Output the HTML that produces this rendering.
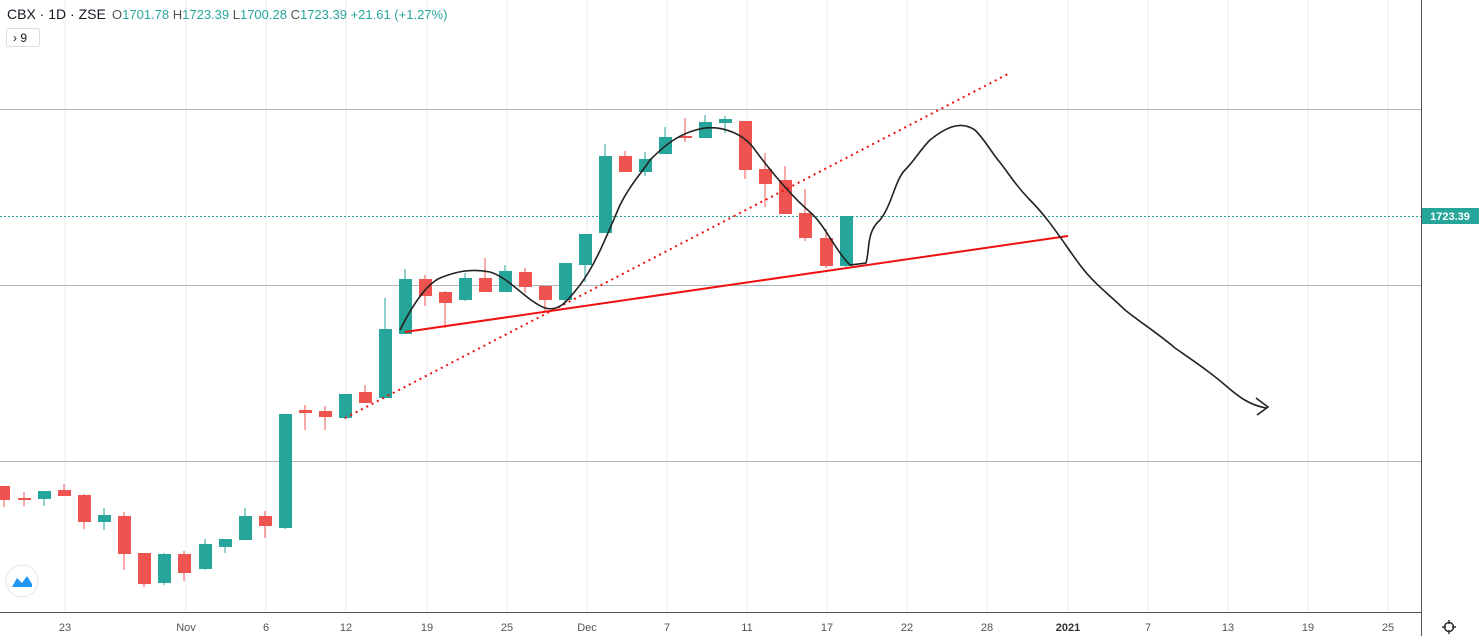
<!DOCTYPE html>
<html><head><style>
body{margin:0;background:#fff;}
svg{display:block;font-family:"Liberation Sans",sans-serif;}
</style></head><body>
<svg width="1479" height="636" viewBox="0 0 1479 636">
<rect width="1479" height="636" fill="#fff"/>
<g stroke="#e8ebef" stroke-width="1">
<line x1="65" y1="0" x2="65" y2="612"/><line x1="186" y1="0" x2="186" y2="612"/><line x1="266" y1="0" x2="266" y2="612"/><line x1="346" y1="0" x2="346" y2="612"/><line x1="427" y1="0" x2="427" y2="612"/><line x1="507" y1="0" x2="507" y2="612"/><line x1="587" y1="0" x2="587" y2="612"/><line x1="667" y1="0" x2="667" y2="612"/><line x1="747" y1="0" x2="747" y2="612"/><line x1="827" y1="0" x2="827" y2="612"/><line x1="907" y1="0" x2="907" y2="612"/><line x1="987" y1="0" x2="987" y2="612"/><line x1="1068" y1="0" x2="1068" y2="612"/><line x1="1148" y1="0" x2="1148" y2="612"/><line x1="1228" y1="0" x2="1228" y2="612"/><line x1="1308" y1="0" x2="1308" y2="612"/><line x1="1388" y1="0" x2="1388" y2="612"/>
</g>
<g stroke="#b2b5be" stroke-width="1">
<line x1="0" y1="109.5" x2="1421" y2="109.5"/><line x1="0" y1="285.5" x2="1421" y2="285.5"/><line x1="0" y1="461.5" x2="1421" y2="461.5"/>
</g>
<line x1="0" y1="216.5" x2="1421" y2="216.5" stroke="#26a69a" stroke-dasharray="2,2"/>
<line x1="0" y1="612.5" x2="1421" y2="612.5" stroke="#555"/>
<line x1="1421.5" y1="0" x2="1421.5" y2="636" stroke="#555"/>
<g stroke-width="1">
<line x1="4" y1="486" x2="4" y2="507" stroke="#ef5350"/><rect x="-3" y="486" width="13" height="14" fill="#ef5350"/>
<line x1="24" y1="492" x2="24" y2="506" stroke="#ef5350"/><rect x="18" y="498" width="13" height="2" fill="#ef5350"/>
<line x1="44" y1="491" x2="44" y2="506" stroke="#26a69a"/><rect x="38" y="491" width="13" height="8" fill="#26a69a"/>
<line x1="64" y1="484" x2="64" y2="496" stroke="#ef5350"/><rect x="58" y="490" width="13" height="6" fill="#ef5350"/>
<line x1="84" y1="494" x2="84" y2="529" stroke="#ef5350"/><rect x="78" y="495" width="13" height="27" fill="#ef5350"/>
<line x1="104" y1="508" x2="104" y2="530" stroke="#26a69a"/><rect x="98" y="515" width="13" height="7" fill="#26a69a"/>
<line x1="124" y1="512" x2="124" y2="570" stroke="#ef5350"/><rect x="118" y="516" width="13" height="38" fill="#ef5350"/>
<line x1="144" y1="553" x2="144" y2="587" stroke="#ef5350"/><rect x="138" y="553" width="13" height="31" fill="#ef5350"/>
<line x1="164" y1="553" x2="164" y2="585" stroke="#26a69a"/><rect x="158" y="554" width="13" height="29" fill="#26a69a"/>
<line x1="184" y1="551" x2="184" y2="581" stroke="#ef5350"/><rect x="178" y="554" width="13" height="19" fill="#ef5350"/>
<line x1="205" y1="539" x2="205" y2="570" stroke="#26a69a"/><rect x="199" y="544" width="13" height="25" fill="#26a69a"/>
<line x1="225" y1="539" x2="225" y2="553" stroke="#26a69a"/><rect x="219" y="539" width="13" height="8" fill="#26a69a"/>
<line x1="245" y1="508" x2="245" y2="540" stroke="#26a69a"/><rect x="239" y="516" width="13" height="24" fill="#26a69a"/>
<line x1="265" y1="511" x2="265" y2="538" stroke="#ef5350"/><rect x="259" y="516" width="13" height="10" fill="#ef5350"/>
<line x1="285" y1="414" x2="285" y2="529" stroke="#26a69a"/><rect x="279" y="414" width="13" height="114" fill="#26a69a"/>
<line x1="305" y1="405" x2="305" y2="430" stroke="#ef5350"/><rect x="299" y="410" width="13" height="3" fill="#ef5350"/>
<line x1="325" y1="406" x2="325" y2="430" stroke="#ef5350"/><rect x="319" y="411" width="13" height="6" fill="#ef5350"/>
<line x1="345" y1="394" x2="345" y2="419" stroke="#26a69a"/><rect x="339" y="394" width="13" height="24" fill="#26a69a"/>
<line x1="365" y1="385" x2="365" y2="403" stroke="#ef5350"/><rect x="359" y="392" width="13" height="11" fill="#ef5350"/>
<line x1="385" y1="298" x2="385" y2="398" stroke="#26a69a"/><rect x="379" y="329" width="13" height="69" fill="#26a69a"/>
<line x1="405" y1="269" x2="405" y2="334" stroke="#26a69a"/><rect x="399" y="279" width="13" height="55" fill="#26a69a"/>
<line x1="425" y1="275" x2="425" y2="306" stroke="#ef5350"/><rect x="419" y="279" width="13" height="17" fill="#ef5350"/>
<line x1="445" y1="291" x2="445" y2="328" stroke="#ef5350"/><rect x="439" y="292" width="13" height="11" fill="#ef5350"/>
<line x1="465" y1="273" x2="465" y2="301" stroke="#26a69a"/><rect x="459" y="278" width="13" height="22" fill="#26a69a"/>
<line x1="485" y1="258" x2="485" y2="292" stroke="#ef5350"/><rect x="479" y="278" width="13" height="14" fill="#ef5350"/>
<line x1="505" y1="265" x2="505" y2="292" stroke="#26a69a"/><rect x="499" y="271" width="13" height="21" fill="#26a69a"/>
<line x1="525" y1="268" x2="525" y2="293" stroke="#ef5350"/><rect x="519" y="272" width="13" height="15" fill="#ef5350"/>
<line x1="545" y1="286" x2="545" y2="312" stroke="#ef5350"/><rect x="539" y="286" width="13" height="14" fill="#ef5350"/>
<line x1="565" y1="263" x2="565" y2="305" stroke="#26a69a"/><rect x="559" y="263" width="13" height="37" fill="#26a69a"/>
<line x1="585" y1="234" x2="585" y2="282" stroke="#26a69a"/><rect x="579" y="234" width="13" height="31" fill="#26a69a"/>
<line x1="605" y1="144" x2="605" y2="233" stroke="#26a69a"/><rect x="599" y="156" width="13" height="77" fill="#26a69a"/>
<line x1="625" y1="151" x2="625" y2="172" stroke="#ef5350"/><rect x="619" y="156" width="13" height="16" fill="#ef5350"/>
<line x1="645" y1="152" x2="645" y2="176" stroke="#26a69a"/><rect x="639" y="159" width="13" height="13" fill="#26a69a"/>
<line x1="665" y1="127" x2="665" y2="154" stroke="#26a69a"/><rect x="659" y="137" width="13" height="17" fill="#26a69a"/>
<line x1="685" y1="118" x2="685" y2="142" stroke="#ef5350"/><rect x="679" y="136" width="13" height="2" fill="#ef5350"/>
<line x1="705" y1="115" x2="705" y2="138" stroke="#26a69a"/><rect x="699" y="122" width="13" height="16" fill="#26a69a"/>
<line x1="725" y1="116" x2="725" y2="133" stroke="#26a69a"/><rect x="719" y="119" width="13" height="4" fill="#26a69a"/>
<line x1="745" y1="121" x2="745" y2="179" stroke="#ef5350"/><rect x="739" y="121" width="13" height="49" fill="#ef5350"/>
<line x1="765" y1="153" x2="765" y2="207" stroke="#ef5350"/><rect x="759" y="169" width="13" height="15" fill="#ef5350"/>
<line x1="785" y1="166" x2="785" y2="214" stroke="#ef5350"/><rect x="779" y="180" width="13" height="34" fill="#ef5350"/>
<line x1="805" y1="189" x2="805" y2="241" stroke="#ef5350"/><rect x="799" y="213" width="13" height="25" fill="#ef5350"/>
<line x1="826" y1="229" x2="826" y2="268" stroke="#ef5350"/><rect x="820" y="238" width="13" height="28" fill="#ef5350"/>
<line x1="846" y1="216" x2="846" y2="267" stroke="#26a69a"/><rect x="840" y="216" width="13" height="50" fill="#26a69a"/>
</g>
<line x1="405" y1="332" x2="1068" y2="236" stroke="#f01010" stroke-width="2"/>
<line x1="345" y1="418" x2="1008" y2="74" stroke="#f01010" stroke-width="2" stroke-dasharray="2,4"/>
<path d="M400,330 C410,310 425,285 440,278 C455,272 470,268 490,272 C510,278 525,300 545,308 C560,312 568,300 580,285 C595,265 605,240 620,205 C630,185 640,175 650,160 C665,145 680,132 705,128 C725,126 745,135 755,150 C770,170 790,195 810,212 C825,225 835,250 850,265 L866,263 C870,250 866,232 880,220 C892,205 895,180 905,170 C915,160 920,150 930,140 C945,128 960,120 975,130 C985,140 990,150 998,160 C1008,172 1015,185 1030,200 C1050,220 1065,245 1080,265 C1095,285 1110,295 1125,310 C1140,322 1160,335 1175,348 C1195,362 1210,372 1225,385 C1240,398 1250,405 1266,408" fill="none" stroke="#222" stroke-width="1.6"/>
<path d="M1256,398 L1268,407 L1257,415" fill="none" stroke="#222" stroke-width="1.6"/>
<rect x="1422" y="208" width="57" height="16" fill="#26a69a"/>
<text x="1450" y="220" font-size="11" fill="#fff" text-anchor="middle" font-weight="bold">1723.39</text>
<g font-size="11" fill="#555" text-anchor="middle">
<text x="65" y="631">23</text><text x="186" y="631">Nov</text><text x="266" y="631">6</text><text x="346" y="631">12</text><text x="427" y="631">19</text><text x="507" y="631">25</text><text x="587" y="631">Dec</text><text x="667" y="631">7</text><text x="747" y="631">11</text><text x="827" y="631">17</text><text x="907" y="631">22</text><text x="987" y="631">28</text><text x="1068" y="631" font-weight="bold" fill="#333">2021</text><text x="1148" y="631">7</text><text x="1228" y="631">13</text><text x="1308" y="631">19</text><text x="1388" y="631">25</text>
</g>
<circle cx="1449" cy="627" r="4.5" fill="none" stroke="#333" stroke-width="1.5"/>
<g stroke="#333" stroke-width="1.5"><line x1="1449" y1="620" x2="1449" y2="634"/><line x1="1442" y1="627" x2="1456" y2="627"/></g>
<circle cx="1449" cy="627" r="3" fill="#fff"/>
<circle cx="22" cy="581" r="16" fill="#fff" stroke="#e6e6e6"/>
<path d="M12,587 L17,578 L22,583 L27,576 L32,584 L32,587 Z" fill="#2196f3"/>
<text x="7" y="19" font-size="14" fill="#131722">CBX · 1D · ZSE</text>
<text x="112" y="19" font-size="13" fill="#26a69a"><tspan fill="#555">O</tspan>1701.78 <tspan fill="#555">H</tspan>1723.39 <tspan fill="#555">L</tspan>1700.28 <tspan fill="#555">C</tspan>1723.39 +21.61 (+1.27%)</text>
<rect x="6.5" y="28.5" width="33" height="18" rx="2" fill="#fff" stroke="#ddd"/>
<text x="13" y="42" font-size="12" fill="#131722">›  9</text>
</svg>
</body></html>
